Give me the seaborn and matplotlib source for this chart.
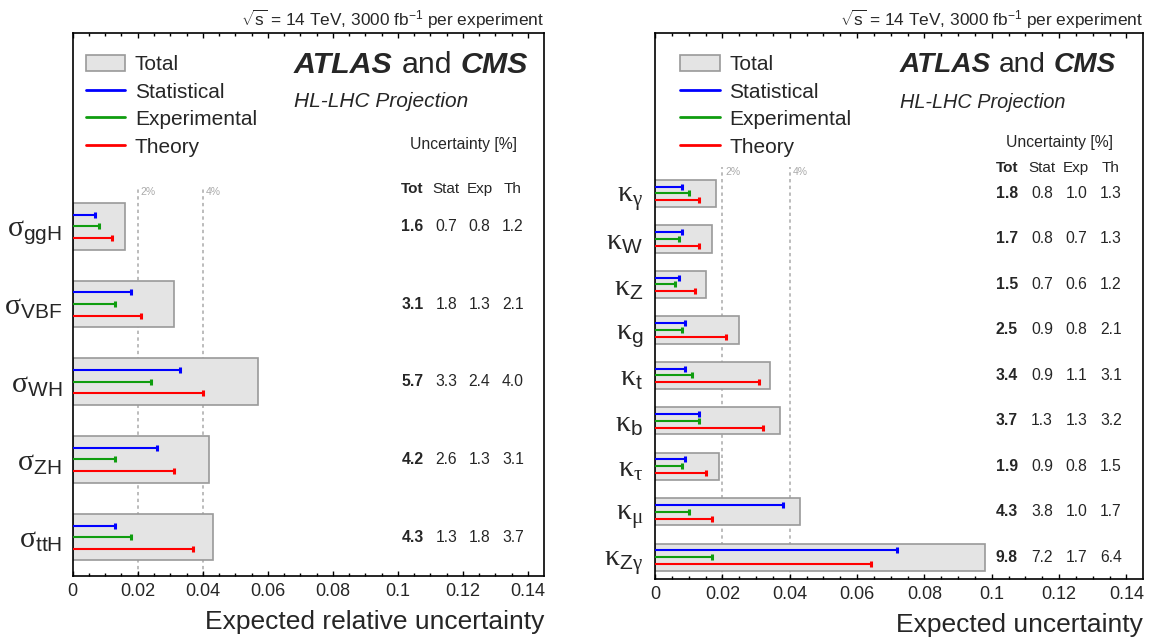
import numpy as np
import pandas as pd
import matplotlib
matplotlib.use("Agg")
import matplotlib.pyplot as plt
import seaborn as sns
from matplotlib.patches import Patch
from matplotlib.lines import Line2D
from matplotlib.ticker import MultipleLocator, FuncFormatter

# ---------------- data (uncertainties in %) ----------------
xs_labels = [r"$\mathrm{\sigma}_{\mathsf{ggH}}$", r"$\mathrm{\sigma}_{\mathsf{VBF}}$",
             r"$\mathrm{\sigma}_{\mathsf{WH}}$", r"$\mathrm{\sigma}_{\mathsf{ZH}}$",
             r"$\mathrm{\sigma}_{\mathsf{ttH}}$"]
xs_tot = [1.6, 3.1, 5.7, 4.2, 4.3]
xs_stat = [0.7, 1.8, 3.3, 2.6, 1.3]
xs_exp = [0.8, 1.3, 2.4, 1.3, 1.8]
xs_th = [1.2, 2.1, 4.0, 3.1, 3.7]

k_labels = [r"$\mathrm{\kappa}_{\mathrm{\gamma}}$", r"$\mathrm{\kappa}_{\mathsf{W}}$",
            r"$\mathrm{\kappa}_{\mathsf{Z}}$", r"$\mathrm{\kappa}_{\mathsf{g}}$",
            r"$\mathrm{\kappa}_{\mathsf{t}}$", r"$\mathrm{\kappa}_{\mathsf{b}}$",
            r"$\mathrm{\kappa}_{\mathrm{\tau}}$", r"$\mathrm{\kappa}_{\mathrm{\mu}}$",
            r"$\mathrm{\kappa}_{\mathsf{Z}\mathrm{\gamma}}$"]
k_tot = [1.8, 1.7, 1.5, 2.5, 3.4, 3.7, 1.9, 4.3, 9.8]
k_stat = [0.8, 0.8, 0.7, 0.9, 0.9, 1.3, 0.9, 3.8, 7.2]
k_exp = [1.0, 0.7, 0.6, 0.8, 1.1, 1.3, 0.8, 1.0, 1.7]
k_th = [1.3, 1.3, 1.2, 2.1, 3.1, 3.2, 1.5, 1.7, 6.4]

legend_labels = ["Total", "Statistical", "Experimental", "Theory"]
header_labels = ["Tot", "Stat", "Exp", "Th"]
ref_lines = [0.02, 0.04]
ref_labels = ["2%", "4%"]

# ---------------- style ----------------
sns.set_theme(style="white")
plt.rcParams["font.family"] = ["Liberation Sans", "DejaVu Sans"]
plt.rcParams["mathtext.fontset"] = "custom"
plt.rcParams["mathtext.rm"] = "Liberation Serif"
plt.rcParams["mathtext.sf"] = "Liberation Sans"
plt.rcParams["mathtext.it"] = "Liberation Serif:italic"
plt.rcParams["mathtext.bf"] = "Liberation Serif:bold"
plt.rcParams["axes.edgecolor"] = "black"
plt.rcParams["axes.linewidth"] = 1.2

C_TOT = "#e4e4e4"
C_EDGE = "#999999"
C_STAT = "#0000ff"
C_EXP = "#0f9d0f"
C_TH = "#ff0000"
C_REF = "#aaaaaa"

COLS = [0.1045, 0.1149, 0.1251, 0.1354]

fig = plt.figure(figsize=(11.5, 6.41), dpi=100)
axL = fig.add_axes([0.0632, 0.1014, 0.4098, 0.8471])
axR = fig.add_axes([0.5696, 0.0967, 0.4243, 0.8518])


def panel(ax, labels, tot, stat, exp, th, ylim, hdr_y, unc_y, ref_top,
          xlabel, xlabel_y, tag_x, cms_fs, hl_fs, leg_x, ypad):
    df = pd.DataFrame({"label": labels, "tot": np.array(tot) / 100.0})
    sns.barplot(data=df, x="tot", y="label", order=labels, orient="h",
                width=0.6, color=C_TOT, saturation=1, edgecolor=C_EDGE,
                linewidth=1.2, errorbar=None, ax=ax, zorder=1)
    ypos = np.arange(len(labels))
    for vals, off, col in [(stat, -0.15, C_STAT), (exp, 0.0, C_EXP), (th, 0.15, C_TH)]:
        v = np.array(vals) / 100.0
        ax.hlines(ypos + off, 0, v, color=col, lw=1.5, zorder=3)
        ax.plot(v, ypos + off, ls="none", marker="|", ms=4.5, mew=2.2,
                color=col, zorder=4)
    # reference lines
    for xr, lab in zip(ref_lines, ref_labels):
        ax.plot([xr, xr], [ylim[0], ref_top], color=C_REF, lw=1.1,
                ls=(0, (2.2, 2.2)), zorder=0)
        ax.text(xr + 0.0008, ref_top, lab, color=C_REF, fontsize=7.5,
                ha="left", va="top")
    # table
    ax.text(0.1201, unc_y, "Uncertainty [%]", fontsize=11.3, ha="center", va="center")
    for i, h in enumerate(header_labels):
        ax.text(COLS[i], hdr_y, h, fontsize=11, ha="center", va="center",
                fontweight="bold" if i == 0 else "normal")
    for j in range(len(labels)):
        for i, arr in enumerate([tot, stat, exp, th]):
            ax.text(COLS[i], ypos[j], f"{arr[j]:.1f}", fontsize=11.3,
                    ha="center", va="center",
                    fontweight="bold" if i == 0 else "normal")
    ax.set_xlim(0, 0.1449)
    ax.set_ylim(*ylim)
    ax.xaxis.set_major_locator(MultipleLocator(0.02))
    ax.xaxis.set_minor_locator(MultipleLocator(0.005))
    ax.xaxis.set_major_formatter(FuncFormatter(lambda x, p: f"{x:g}"))
    ax.tick_params(axis="x", which="both", direction="in", top=True, bottom=True,
                   labelsize=13, pad=5, color="black", width=1.0)
    ax.tick_params(axis="x", which="major", length=3.8)
    ax.tick_params(axis="x", which="minor", length=1.9)
    ax.tick_params(axis="y", length=0, labelsize=21.5, pad=ypad)
    ax.set_ylabel("")
    ax.set_xlabel(xlabel, fontsize=19, ha="right", va="center")
    ax.xaxis.set_label_coords(1.0, xlabel_y)
    for s in ax.spines.values():
        s.set_visible(True)
        s.set_color("black")
        s.set_linewidth(1.2)
    # header text above axes
    ax.text(1.0, 1.024, r"$\sqrt{\mathsf{s}}$ = 14 TeV, 3000 fb$^{\mathsf{-1}}$ per experiment",
            transform=ax.transAxes, fontsize=12.4, ha="right", va="center")
    # ATLAS and CMS
    t1 = ax.text(tag_x, 0.941, "ATLAS", transform=ax.transAxes, fontsize=cms_fs,
                 fontweight="bold", fontstyle="italic", ha="left", va="center")
    t2 = ax.annotate("and", xy=(1, 0), xycoords=t1, xytext=(0.28 * cms_fs, 0),
                     textcoords="offset points", fontsize=cms_fs, ha="left", va="bottom")
    ax.annotate("CMS", xy=(1, 0), xycoords=t2, xytext=(0.28 * cms_fs, 0),
                textcoords="offset points", fontsize=cms_fs, fontweight="bold",
                fontstyle="italic", ha="left", va="bottom")
    ax.text(tag_x, 0.873, "HL-LHC Projection", transform=ax.transAxes,
            fontsize=hl_fs, fontstyle="italic", ha="left", va="center")
    # legend
    handles = [Patch(facecolor=C_TOT, edgecolor=C_EDGE, linewidth=1.2),
               Line2D([], [], color=C_STAT, lw=2),
               Line2D([], [], color=C_EXP, lw=2),
               Line2D([], [], color=C_TH, lw=2)]
    ax.legend(handles, legend_labels, loc="upper left", bbox_to_anchor=(leg_x, 0.960),
              frameon=False, fontsize=15, borderpad=0, borderaxespad=0,
              handlelength=1.9, handleheight=0.85, handletextpad=0.45,
              labelspacing=0.38)


panel(axL, xs_labels, xs_tot, xs_stat, xs_exp, xs_th, ylim=(4.5, -2.49),
      hdr_y=-0.486, unc_y=-1.06, ref_top=-0.51,
      xlabel="Expected relative uncertainty", xlabel_y=-0.0847,
      tag_x=0.4696, cms_fs=21.9, hl_fs=15, leg_x=0.028, ypad=7.7)
panel(axR, k_labels, k_tot, k_stat, k_exp, k_th, ylim=(8.48, -3.53),
      hdr_y=-0.554, unc_y=-1.117, ref_top=-0.58,
      xlabel="Expected uncertainty", xlabel_y=-0.0842,
      tag_x=0.5014, cms_fs=20.2, hl_fs=14.3, leg_x=0.052, ypad=8.5)

fig.savefig("out.png", dpi=100)
